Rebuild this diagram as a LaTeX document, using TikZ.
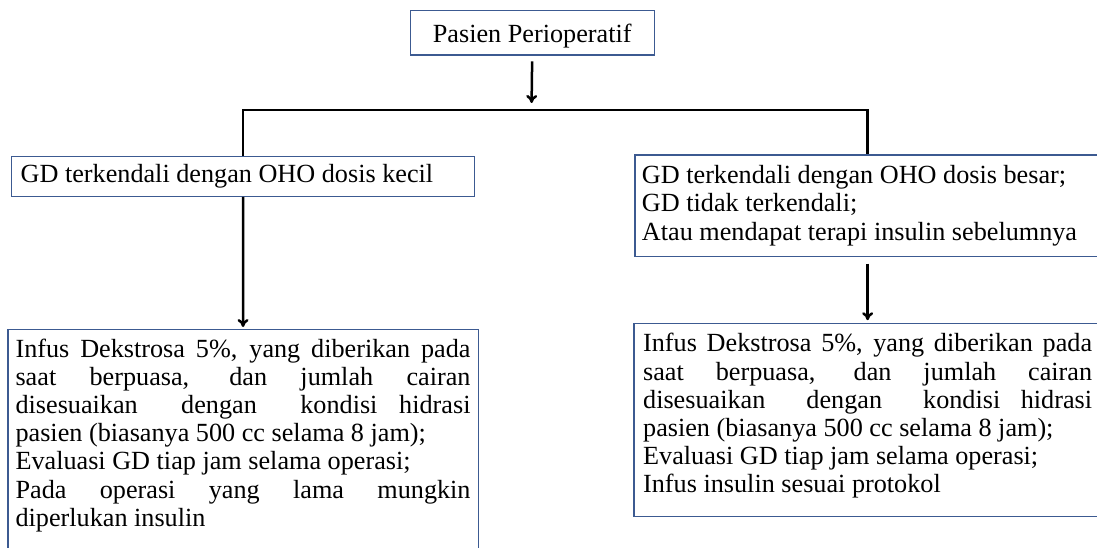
\documentclass[tikz,border=0pt]{standalone}
\usepackage{fontspec}
\setmainfont{Liberation Serif}
\usetikzlibrary{arrows.meta}
\definecolor{boxblue}{RGB}{60,90,145}
\begin{document}
\begin{tikzpicture}[x=1pt, y=-1pt, >={To[length=8pt,width=11pt]},
            box/.style={draw=boxblue, line width=1.3pt, anchor=north west, font={\fontsize{26.2}{28.2}\selectfont\hyphenpenalty=10000}}]
            \useasboundingbox (0,0) rectangle (1097,548);
            \node [box, minimum width=244.1pt, minimum height=44.5pt, inner sep=0pt, text depth=0pt] (pasien) at (409.5,10) {Pasien Perioperatif};
            \node [box, text width=444.7pt, inner xsep=9pt, inner ysep=8pt, align=flush left] (kecil) at (11,155.7) {GD terkendali dengan OHO dosis kecil};
            \node [box, text width=451.4pt, inner xsep=7pt, inner ysep=10.6pt, align=flush left] (besar) at (634.3,154.3) {GD terkendali dengan OHO dosis besar;\\ GD tidak terkendali;\\ Atau mendapat terapi insulin sebelumnya};
            \node [box, text width=455pt, inner xsep=7.6pt, inner ysep=9pt, align=justify] (infuskecil) at (7.3,329) {Infus Dekstrosa 5\%, yang diberikan pada\linebreak saat berpuasa, dan jumlah cairan\linebreak disesuaikan\ \ dengan\ \ kondisi hidrasi\linebreak pasien (biasanya 500 cc selama 8 jam);\\ Evaluasi GD tiap jam selama operasi;\\ Pada operasi yang lama mungkin\linebreak diperlukan insulin\rule[-20pt]{0pt}{20pt}};
            \node [box, text width=449pt, inner xsep=9.2pt, inner ysep=10pt, align=justify] (infusbesar) at (633.3,322.7) {Infus Dekstrosa 5\%, yang diberikan pada\linebreak saat berpuasa, dan jumlah cairan\linebreak disesuaikan\ \ dengan\ \ kondisi hidrasi\linebreak pasien (biasanya 500 cc selama 8 jam);\\ Evaluasi GD tiap jam selama operasi;\\ Infus insulin sesuai protokol\rule[-14pt]{0pt}{14pt}};
            \coordinate (split) at (531.5,110);
            \draw [->, line width=2.5pt, shorten <=5.5pt, shorten >=7pt] (pasien.south) -- (split);
            \draw [line width=2.7pt] (kecil.north) |- (split) -| (besar.north);
            \draw [->, line width=2.5pt, shorten >=2pt] (kecil.south) -- (infuskecil.north);
            \draw [->, line width=2.5pt, shorten <=6.5pt, shorten >=2.5pt] (besar.south) -- (infusbesar.north);
\end{tikzpicture}
\end{document}
